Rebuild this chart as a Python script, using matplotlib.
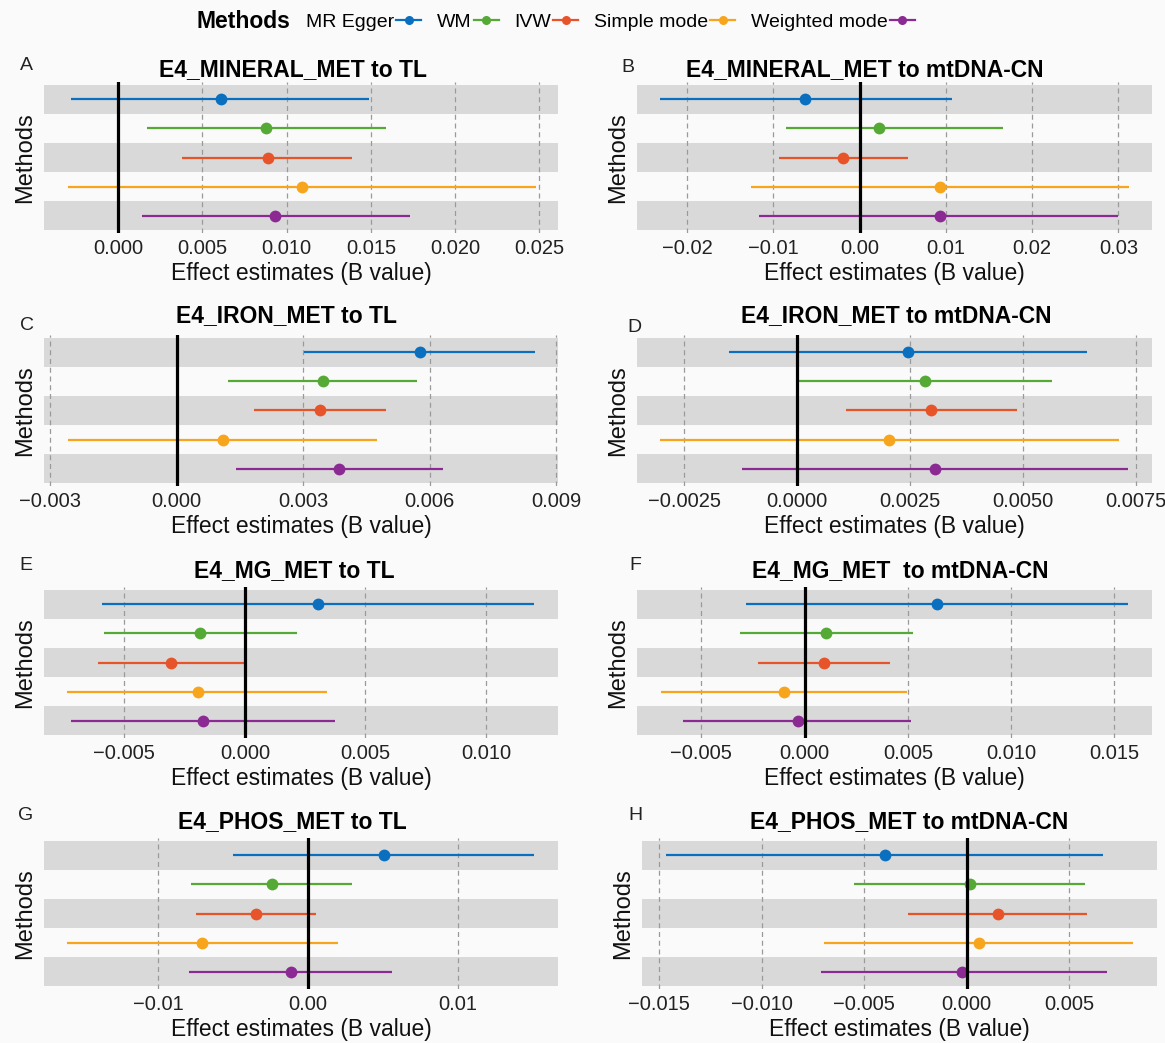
import matplotlib.pyplot as plt
from matplotlib.lines import Line2D

plt.rcParams["font.family"] = ["Liberation Sans", "DejaVu Sans"]

METHODS = ["MR Egger", "WM", "IVW", "Simple mode", "Weighted mode"]
COLORS = ["#0A6FBF", "#55A935", "#E8542A", "#F7A51D", "#8B2A92"]

TITLES = [
    "E4_MINERAL_MET to TL", "E4_MINERAL_MET to mtDNA-CN",
    "E4_IRON_MET to TL", "E4_IRON_MET to mtDNA-CN",
    "E4_MG_MET to TL", "E4_MG_MET  to mtDNA-CN",
    "E4_PHOS_MET to TL", "E4_PHOS_MET to mtDNA-CN",
]
LETTERS = ["A", "B", "C", "D", "E", "F", "G", "H"]

# beta estimate, lower and upper CI, in METHODS order
A_EST = [0.0061, 0.0088, 0.0089, 0.0109, 0.0093]
A_LO = [-0.0028, 0.0017, 0.0038, -0.0030, 0.0014]
A_HI = [0.0149, 0.0159, 0.0139, 0.0248, 0.0173]

B_EST = [-0.0063, 0.0023, -0.0019, 0.0093, 0.0093]
B_LO = [-0.0231, -0.0085, -0.0093, -0.0126, -0.0116]
B_HI = [0.0107, 0.0166, 0.0056, 0.0312, 0.0300]

C_EST = [0.00576, 0.00347, 0.00340, 0.00109, 0.00385]
C_LO = [0.00302, 0.00122, 0.00184, -0.00258, 0.00142]
C_HI = [0.00850, 0.00571, 0.00497, 0.00475, 0.00632]

D_EST = [0.00245, 0.00284, 0.00296, 0.00204, 0.00306]
D_LO = [-0.00152, 0.00003, 0.00107, -0.00304, -0.00123]
D_HI = [0.00643, 0.00565, 0.00488, 0.00712, 0.00732]

E_EST = [0.00303, -0.00184, -0.00305, -0.00196, -0.00175]
E_LO = [-0.00594, -0.00586, -0.00609, -0.00736, -0.00719]
E_HI = [0.0120, 0.00217, 0.00002, 0.00341, 0.00373]

F_EST = [0.00643, 0.00105, 0.00094, -0.00101, -0.00034]
F_LO = [-0.00282, -0.00314, -0.00226, -0.00697, -0.00587]
F_HI = [0.01565, 0.00527, 0.00412, 0.00496, 0.00516]

G_EST = [0.0051, -0.00239, -0.00347, -0.00704, -0.00113]
G_LO = [-0.00498, -0.00778, -0.00746, -0.01606, -0.00791]
G_HI = [0.0151, 0.00296, 0.00052, 0.00200, 0.00559]

H_EST = [-0.00399, 0.00018, 0.00151, 0.00060, -0.00022]
H_LO = [-0.0147, -0.00548, -0.00288, -0.00696, -0.00710]
H_HI = [0.00665, 0.00577, 0.00587, 0.00814, 0.00683]

PANELS = [
    (A_EST, A_LO, A_HI), (B_EST, B_LO, B_HI),
    (C_EST, C_LO, C_HI), (D_EST, D_LO, D_HI),
    (E_EST, E_LO, E_HI), (F_EST, F_LO, F_HI),
    (G_EST, G_LO, G_HI), (H_EST, H_LO, H_HI),
]

XLIMS = [
    (-0.0044, 0.0261), (-0.0258, 0.0339),
    (-0.00314, 0.00904), (-0.00355, 0.00786),
    (-0.00833, 0.01299), (-0.00811, 0.01682),
    (-0.01761, 0.0167), (-0.01585, 0.00929),
]
TICKS = [
    [0.0, 0.005, 0.010, 0.015, 0.020, 0.025],
    [-0.02, -0.01, 0.0, 0.01, 0.02, 0.03],
    [-0.003, 0.0, 0.003, 0.006, 0.009],
    [-0.0025, 0.0, 0.0025, 0.005, 0.0075],
    [-0.005, 0.0, 0.005, 0.010],
    [-0.005, 0.0, 0.005, 0.010, 0.015],
    [-0.01, 0.0, 0.01],
    [-0.015, -0.010, -0.005, 0.0, 0.005],
]
DECIMALS = [3, 2, 3, 4, 3, 3, 2, 3]

W, H = 1165, 1043
# axes boxes in pixels: left, right, top, bottom
ROW_Y = [(82, 233), (335, 486), (587, 738), (838, 989)]
COL_X = [(44, 558), (637, 1152)]
TITLE_X = [293, 865, 286, 896, 294, 900, 292, 909]
TITLE_Y = [70, 70, 316, 316, 571, 571, 822, 822]
LETTER_XY = [(26, 65), (628, 68), (27, 325), (634, 327),
             (26, 565), (635, 565), (26, 815), (635, 815)]


def fmt(v, d):
    s = f"{abs(v):.{d}f}"
    return ("\u2212" + s) if v < 0 else s


fig = plt.figure(figsize=(W / 100, H / 100), dpi=100, facecolor="#FAFAFA")

for i, (est, lo, hi) in enumerate(PANELS):
    r, c = divmod(i, 2)
    x0, x1 = COL_X[c]
    if i == 7:
        x0, x1 = 642, 1157
    y0, y1 = ROW_Y[r]
    ax = fig.add_axes([x0 / W, 1 - y1 / H, (x1 - x0) / W, (y1 - y0) / H])
    ax.set_facecolor("#FAFAFA")
    n = len(METHODS)
    ys = [n - k for k in range(n)]
    for k in range(n):
        if k % 2 == 0:
            ax.axhspan(ys[k] - 0.5, ys[k] + 0.5, color="#D9D9D9", lw=0, zorder=0.5)
    for k in range(n):
        ax.plot([lo[k], hi[k]], [ys[k], ys[k]], color=COLORS[k], lw=1.6, zorder=3,
                solid_capstyle="butt")
        ax.plot(est[k], ys[k], "o", color=COLORS[k], ms=8.5, mec="none", zorder=3.5)
    ax.axvline(0, color="black", lw=2.3, zorder=5)
    ax.set_xlim(*XLIMS[i])
    ax.set_ylim(0.4, 5.6)
    ax.set_xticks(TICKS[i])
    ax.set_xticklabels([fmt(t, DECIMALS[i]) for t in TICKS[i]])
    ax.set_yticks([])
    ax.set_axisbelow(False)
    ax.grid(axis="x", color="#9A9A9A", lw=0.9, ls=(0, (4, 3)))
    ax.tick_params(axis="x", length=0, pad=4, labelsize=14.5, labelcolor="#222222")
    for sp in ax.spines.values():
        sp.set_visible(False)
    ax.set_xlabel("Effect estimates (B value)", fontsize=16.5, labelpad=3, color="#111111")
    ax.set_ylabel("Methods", fontsize=17, labelpad=6, color="#111111")
    fig.text(TITLE_X[i] / W, 1 - TITLE_Y[i] / H, TITLES[i], fontsize=16.5,
             fontweight="bold", ha="center", va="center")
    lx, ly = LETTER_XY[i]
    fig.text(lx / W, 1 - ly / H, LETTERS[i], fontsize=14, ha="center", va="center",
             color="#222222")

# legend on top
handles = [Line2D([0], [0], color=col, lw=1.6, marker="o", ms=6.5, mec="none")
           for col in COLORS]
fig.text(196 / W, 1 - 22 / H, "Methods", fontsize=16.5, fontweight="bold",
         ha="left", va="center")
fig.legend(handles, METHODS, loc="center left", bbox_to_anchor=(306 / W, 1 - 22 / H),
           ncol=5, frameon=False, markerfirst=False, fontsize=14, handlelength=1.3,
           handletextpad=0.1, columnspacing=0.8, borderpad=0, borderaxespad=0)

fig.savefig("out.png", dpi=100, facecolor=fig.get_facecolor())
